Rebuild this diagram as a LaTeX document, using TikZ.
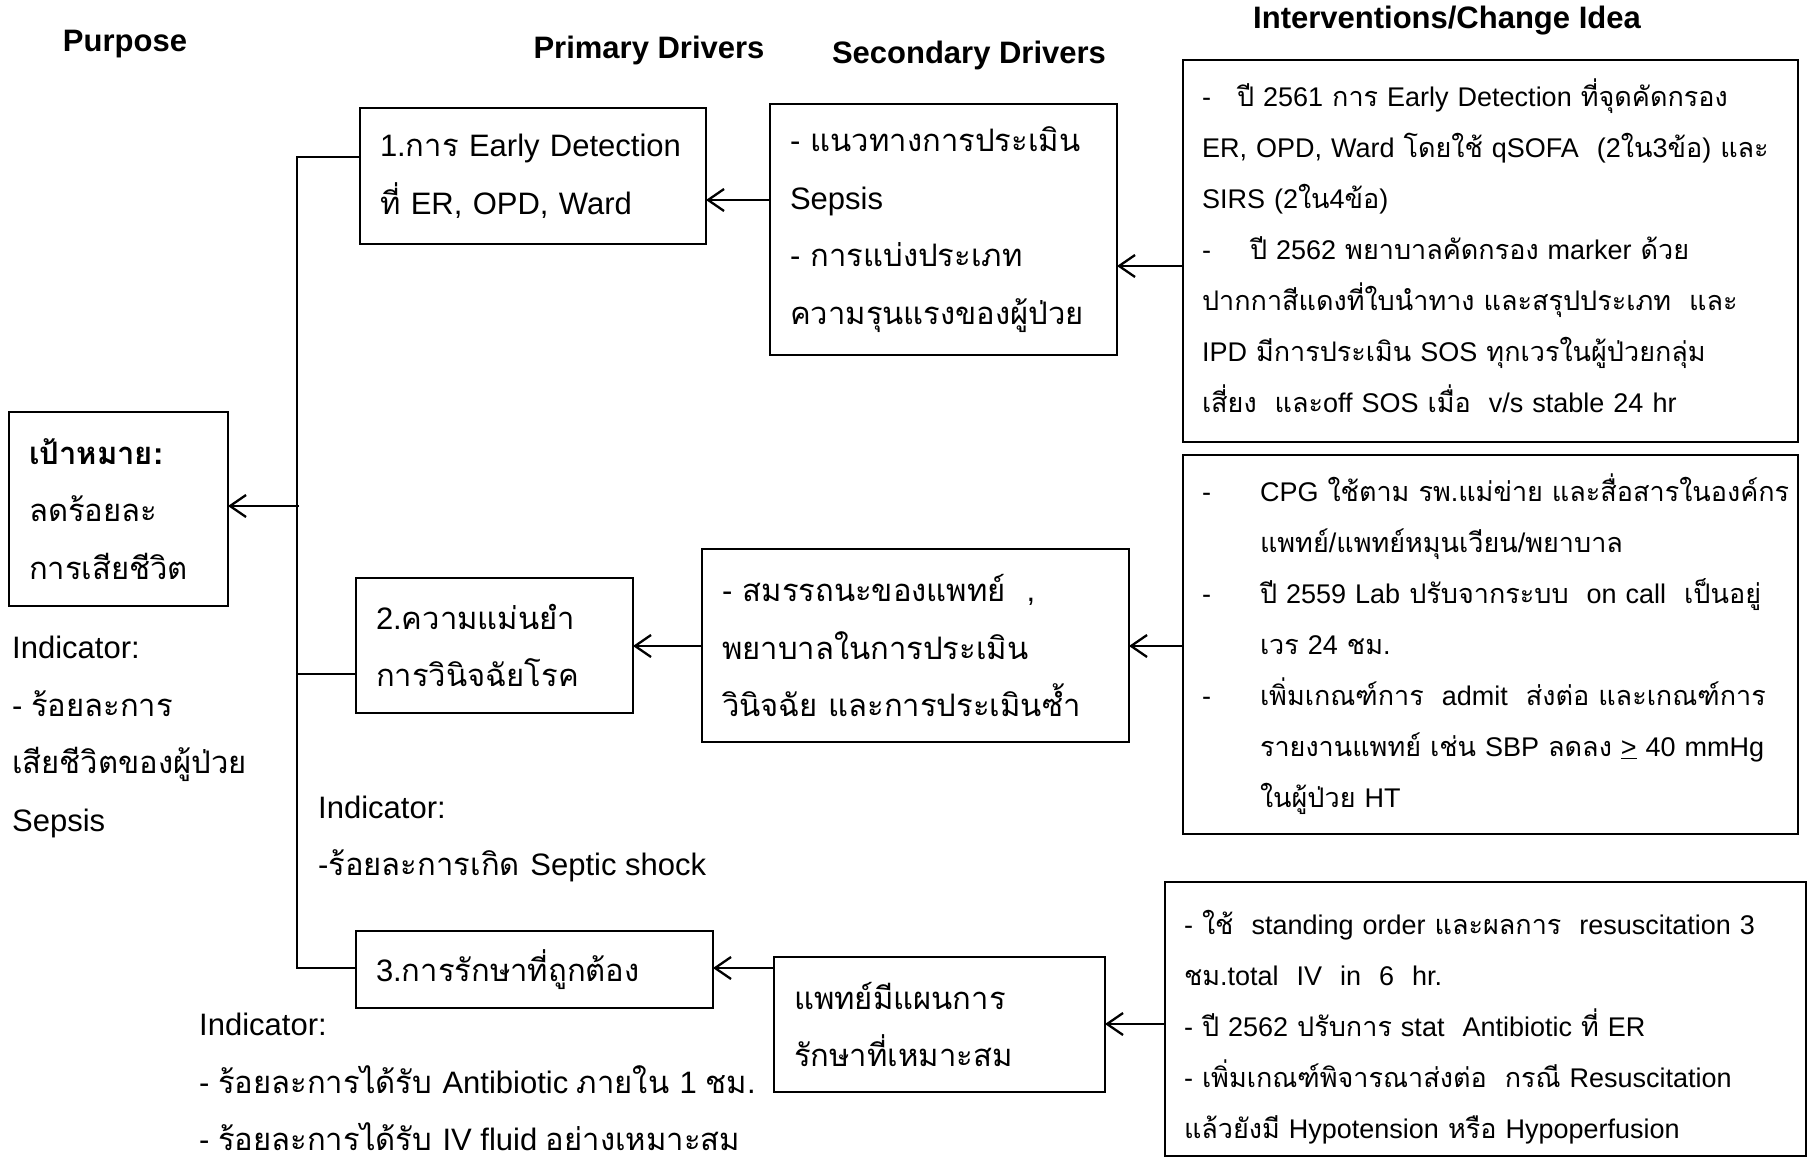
\documentclass[tikz,border=0pt]{standalone}
\usepackage{fontspec}
\setmainfont{Liberation Sans}
\newfontfamily\thaifont[Script=Thai]{Loma}
\usetikzlibrary{arrows.meta,positioning,calc}
% switch to the Thai font for Thai letters, back for the rest
\XeTeXinterchartokenstate=1
\newXeTeXintercharclass\thaicls
\count255="0E00
\loop\ifnum\count255<"0E80
  \XeTeXcharclass\count255=\thaicls
  \advance\count255 by 1
\repeat
\XeTeXinterchartoks 0 \thaicls = {\thaifont}
\XeTeXinterchartoks 4095 \thaicls = {\thaifont}
\XeTeXinterchartoks \thaicls 0 = {\rmfamily}
\XeTeXinterchartoks 4095 0 = {\rmfamily}
\newcommand{\dsh}[1]{\makebox[#1][l]{-}}
\begin{document}
\begin{tikzpicture}[
  x=1pt, y=-1pt,
  font=\fontsize{31}{57.5}\selectfont,
  box/.style={draw, line width=2.6pt, inner xsep=20pt, inner ysep=0pt, outer sep=0pt, align=left, anchor=north west},
  chg/.style={box, font=\fontsize{27}{51}\selectfont, inner xsep=19pt,
    execute at begin node={\hyphenpenalty=10000\exhyphenpenalty=10000}},
  hdr/.style={font=\fontsize{31}{36}\selectfont\bfseries, inner sep=0pt},
  ind/.style={align=left, anchor=west, inner sep=0pt},
  arr/.style={-{Straight Barb[length=16pt, width=22pt]}, line width=2.3pt},
  spine/.style={line width=1.7pt}
]
\useasboundingbox (0,0) rectangle (1812,1167);
% ---------------- column headers
\node[hdr] (hPur) at (125,44) {Purpose};
\node[hdr] (hPri) at (649,50) {Primary Drivers};
\node[hdr] (hSec) at (969,55) {Secondary Drivers};
\node[hdr] (hChg) at (1447,21) {Interventions/Change Idea};
% ---------------- purpose
\node[box, text width=179pt, minimum height=194pt] (goal) at (9,412) {\textbf{เป้าหมาย:}\\ลดร้อยละ\\การเสียชีวิต};
\node[ind] (indG) at (12,737) {Indicator:\\- ร้อยละการ\\เสียชีวิตของผู้ป่วย\\Sepsis};
% ---------------- primary drivers
\node[box, text width=306pt, minimum height=136pt] (p1) at (360,108) {1.การ Early Detection\\ที่ ER, OPD, Ward};
\node[box, text width=237pt, minimum height=135pt] (p2) at (356,578) {2.ความแม่นยำ\\การวินิจฉัยโรค};
\node[box, text width=317pt, minimum height=77pt] (p3) at (356,931) {3.การรักษาที่ถูกต้อง};
\node[ind] (ind2) at (318,839) {Indicator:\\-ร้อยละการเกิด Septic shock};
\node[ind] (ind3) at (199,1082) {Indicator:\\- ร้อยละการได้รับ Antibiotic ภายใน 1 ชม.\\- ร้อยละการได้รับ IV fluid อย่างเหมาะสม};
% ---------------- secondary drivers
\node[box, text width=307pt, minimum height=251pt] (sA) at (770,104) {- แนวทางการประเมิน\\Sepsis\\- การแบ่งประเภท\\ความรุนแรงของผู้ป่วย};
\node[box, text width=387pt, minimum height=193pt] (sB) at (702,549) {- สมรรถนะของแพทย์\ \ ,\\พยาบาลในการประเมิน\\วินิจฉัย และการประเมินซ้ำ};
\node[box, text width=291pt, minimum height=135pt] (sC) at (774,957) {แพทย์มีแผนการ\\รักษาที่เหมาะสม};
% ---------------- change ideas
\node[chg, text width=577pt, minimum height=382pt] (i1) at (1183,60) {%
\dsh{35pt}ปี~2561~การ~Early~Detection~ที่จุดคัดกรอง\\
ER,~OPD,~Ward~โดยใช้~qSOFA~~(2ใน3ข้อ)~และ\\
SIRS~(2ใน4ข้อ)\\
\dsh{48pt}ปี~2562~พยาบาลคัดกรอง~marker~ด้วย\\
ปากกาสีแดงที่ใบนำทาง~และสรุปประเภท~~และ\\
IPD~มีการประเมิน~SOS~ทุกเวรในผู้ป่วยกลุ่ม\\
เสี่ยง~~และoff~SOS~เมื่อ~~v/s~stable~24~hr\rule[-11pt]{0pt}{1pt}};
\node[chg, text width=577pt, minimum height=379pt] (i2) at (1183,455) {%
\dsh{58pt}CPG~ใช้ตาม~รพ.แม่ข่าย~และสื่อสารในองค์กร\\
\hspace*{58pt}แพทย์/แพทย์หมุนเวียน/พยาบาล\\
\dsh{58pt}ปี~2559~Lab~ปรับจากระบบ~~on~call~~เป็นอยู่\\
\hspace*{58pt}เวร~24~ชม.\\
\dsh{58pt}เพิ่มเกณฑ์การ~~admit~~ส่งต่อ~และเกณฑ์การ\\
\hspace*{58pt}รายงานแพทย์~เช่น~SBP~ลดลง~\underline{>}~40~mmHg\\
\hspace*{58pt}ในผู้ป่วย~HT};
\node[chg, text width=603pt, minimum height=274pt] (i3) at (1165,882) {%
\rule{0pt}{40pt}-~ใช้~~standing~order~และผลการ~~resuscitation~3\\
ชม.total~~IV~~in~~6~~hr.\\
-~ปี~2562~ปรับการ~stat~~Antibiotic~ที่~ER\\
-~เพิ่มเกณฑ์พิจารณาส่งต่อ~~กรณี~Resuscitation\\
แล้วยังมี~Hypotension~หรือ~Hypoperfusion};
% ---------------- spine
\coordinate (sp1) at (297,157);
\coordinate (sp2) at (297,674);
\coordinate (sp3) at (297,968);
\coordinate (spg) at (299,506);
\draw[spine] (p1.west |- sp1) -| (sp3) -- (p3.west |- sp3);
\draw[spine] (p2.west |- sp2) -- (sp2);
% ---------------- arrows
\coordinate (yA) at (0,200);
\coordinate (yI1) at (0,266);
\coordinate (yB) at (0,646);
\coordinate (yC) at (0,968);
\coordinate (yI3) at (0,1024);
\draw[arr] (spg) -- (goal.east |- spg);
\draw[arr] (sA.west |- yA) -- (p1.east |- yA);
\draw[arr] (i1.west |- yI1) -- (sA.east |- yI1);
\draw[arr] (sB.west |- yB) -- (p2.east |- yB);
\draw[arr] (i2.west |- yB) -- (sB.east |- yB);
\draw[arr] (sC.west |- yC) -- (p3.east |- yC);
\draw[arr] (i3.west |- yI3) -- (sC.east |- yI3);
\end{tikzpicture}
\end{document}
